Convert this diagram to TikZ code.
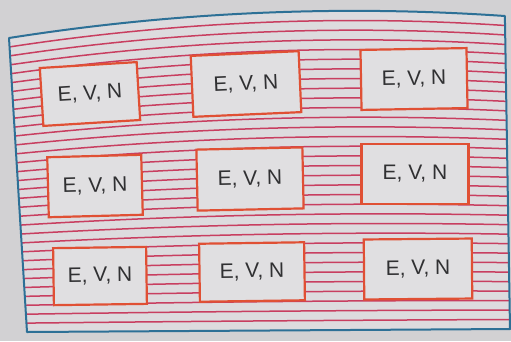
\documentclass[tikz,border=0pt]{standalone}
\usepackage{fontspec}
\setmainfont{Liberation Sans}
\definecolor{paper}{RGB}{210,209,211}
\definecolor{sheet}{RGB}{221,219,222}
\definecolor{ruling}{RGB}{200,62,96}
\definecolor{frameblue}{RGB}{45,112,150}
\definecolor{boxedge}{RGB}{224,80,52}
\definecolor{boxfill}{RGB}{224,223,225}
\definecolor{ink}{RGB}{48,48,50}
\begin{document}
\begin{tikzpicture}[x=1pt,y=-1pt,
  ruleline/.style={draw=ruling, line width=1.5pt},
  framerule/.style={draw=frameblue, line width=2pt, line join=round},
  cell/.style={draw=boxedge, line width=2.2pt, fill=boxfill, text=ink,
    font=\fontsize{21}{25}\selectfont, inner sep=0pt}]
  % page and margins
  \fill[paper] (0,0) rectangle (511,341);
  \useasboundingbox (0,0) rectangle (511,341);
  % ruled sheet: top edge bows upward, bottom edge is straight
  \fill[sheet] plot[domain=0:1, samples=40, variable=\u]
      ({9+496*\u}, {38-78*\u+56*\u*\u}) -- (510,329) -- (27,332) -- cycle;
  % horizontal rulings, interpolated between top and bottom edges
  \foreach \i in {1,...,32}{
    \pgfmathsetmacro\v{\i/33}
    \draw[ruleline] plot[domain=0:1, samples=30, variable=\u]
      ({(1-\v)*(9+496*\u)+\v*(27+483*\u)},
       {(1-\v)*(38-78*\u+56*\u*\u)+\v*(332-3*\u)});
  }
  % blue outline of the sheet
  \draw[framerule] plot[domain=0:1, samples=40, variable=\u]
      ({9+496*\u}, {38-78*\u+56*\u*\u}) -- (510,329) -- (27,332) -- cycle;
  % boxes
  \node[cell, minimum width=97pt, minimum height=58pt, rotate=3.5] (b1) at (90,94)   {E, V, N};
  \node[cell, minimum width=108pt, minimum height=61pt, rotate=2.5](b2) at (246,84)  {E, V, N};
  \node[cell, minimum width=106pt, minimum height=60pt, rotate=1]  (b3) at (414,79)  {E, V, N};
  \node[cell, minimum width=94pt, minimum height=60pt, rotate=1.5] (b4) at (95,186)  {E, V, N};
  \node[cell, minimum width=106pt, minimum height=61pt, rotate=1.2](b5) at (250,179) {E, V, N};
  \node[cell, minimum width=107pt, minimum height=60pt]            (b6) at (415,174) {E, V, N};
  \node[cell, minimum width=93pt, minimum height=57pt, rotate=0.8] (b7) at (100,276) {E, V, N};
  \node[cell, minimum width=105pt, minimum height=58pt, rotate=0.8](b8) at (252,272) {E, V, N};
  \node[cell, minimum width=108pt, minimum height=60pt, rotate=0.5](b9) at (418,269) {E, V, N};
\end{tikzpicture}
\end{document}
